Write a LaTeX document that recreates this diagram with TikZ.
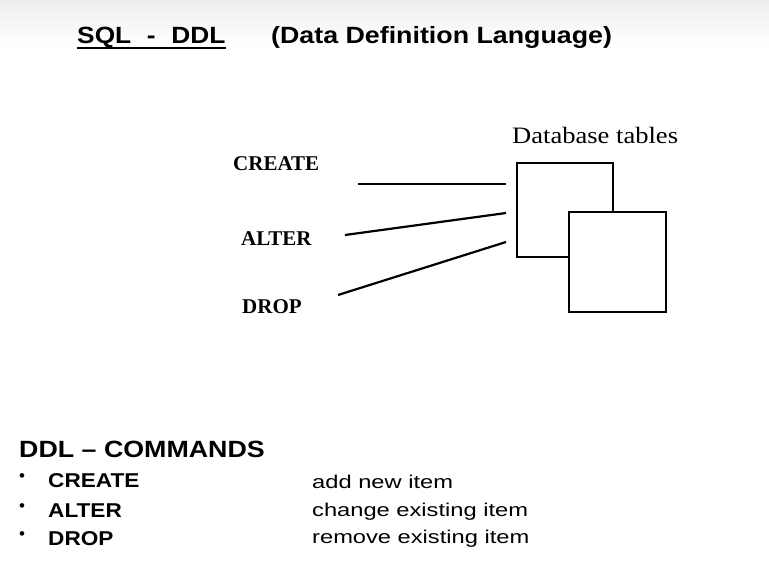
\documentclass[tikz,border=0pt]{standalone}
\usepackage{fontspec}
\setmainfont{Liberation Serif}
\setsansfont{Liberation Sans}

\newcommand{\wider}[2]{\scalebox{#1}[1]{#2}}

\tikzset{
  heading/.style={font=\sffamily\bfseries\fontsize{23.5}{26}\selectfont, anchor=base west, inner sep=0},
  cmdlabel/.style={font=\rmfamily\bfseries\fontsize{21}{23}\selectfont, anchor=base west, inner sep=0},
  tablelabel/.style={font=\rmfamily\fontsize{23.5}{26}\selectfont, anchor=base west, inner sep=0},
  item/.style={font=\sffamily\bfseries\fontsize{20}{22}\selectfont, anchor=base west, inner sep=0},
  itemdesc/.style={font=\sffamily\fontsize{18.5}{21}\selectfont, anchor=base west, inner sep=0},
  bulletmark/.style={font=\sffamily\fontsize{17}{18}\selectfont, inner sep=0},
  dbtable/.style={draw, line width=2pt, fill=white, inner sep=0},
  link/.style={line width=2.2pt}
}

\begin{document}
\begin{tikzpicture}[x=1pt, y=-1pt]
  \useasboundingbox (0,0) rectangle (769,582);
  \shade[top color=black!7, bottom color=white] (0,0) rectangle (769,45);

  % title
  \node[heading] (sqlddl) at (77,43) {\wider{1.12}{SQL\hspace{14pt}-\hspace{14pt}DDL}};
  \draw[line width=1.6pt] ([yshift=-5pt]sqlddl.base west) -- ([yshift=-5pt]sqlddl.base east);
  \node[heading] (fullname) at (271,43) {\wider{1.14}{(Data Definition Language)}};

  % tables
  \node[tablelabel] (tablesname) at (512,143) {\wider{1.13}{Database tables}};
  \node[dbtable, minimum width=96pt, minimum height=94pt] (back) at (565,210) {};
  \node[dbtable, minimum width=97pt, minimum height=100pt] (front) at (617.5,262) {};

  % commands
  \node[cmdlabel] (create) at (233,170) {CREATE};
  \node[cmdlabel] (alter) at (241,245) {ALTER};
  \node[cmdlabel] (drop) at (242,313) {DROP};

  \coordinate (create-tail) at (358,184);
  \coordinate (alter-tail) at (345,235);
  \coordinate (drop-tail) at (338,295);
  \draw[link] (create-tail) -- ([shift={(-10,-26)}]back.west);
  \draw[link] (alter-tail) -- ([shift={(-10,3)}]back.west);
  \draw[link] (drop-tail) -- ([shift={(-10,32)}]back.west);

  % list
  \node[heading] (ddlcmds) at (19,457) {\wider{1.14}{DDL -- COMMANDS}};
  \node[bulletmark] (b1) at (22,478) {•};
  \node[bulletmark] (b2) at (22,508) {•};
  \node[bulletmark] (b3) at (22,536) {•};
  \node[item] (i-create) at (48,487) {\wider{1.13}{CREATE}};
  \node[item] (i-alter) at (48,517) {\wider{1.13}{ALTER}};
  \node[item] (i-drop) at (48,545) {\wider{1.13}{DROP}};
  \node[itemdesc] (d-create) at (312,488) {\wider{1.28}{add new item}};
  \node[itemdesc] (d-alter) at (312,516) {\wider{1.28}{change existing item}};
  \node[itemdesc] (d-drop) at (312,543) {\wider{1.28}{remove existing item}};
\end{tikzpicture}
\end{document}
